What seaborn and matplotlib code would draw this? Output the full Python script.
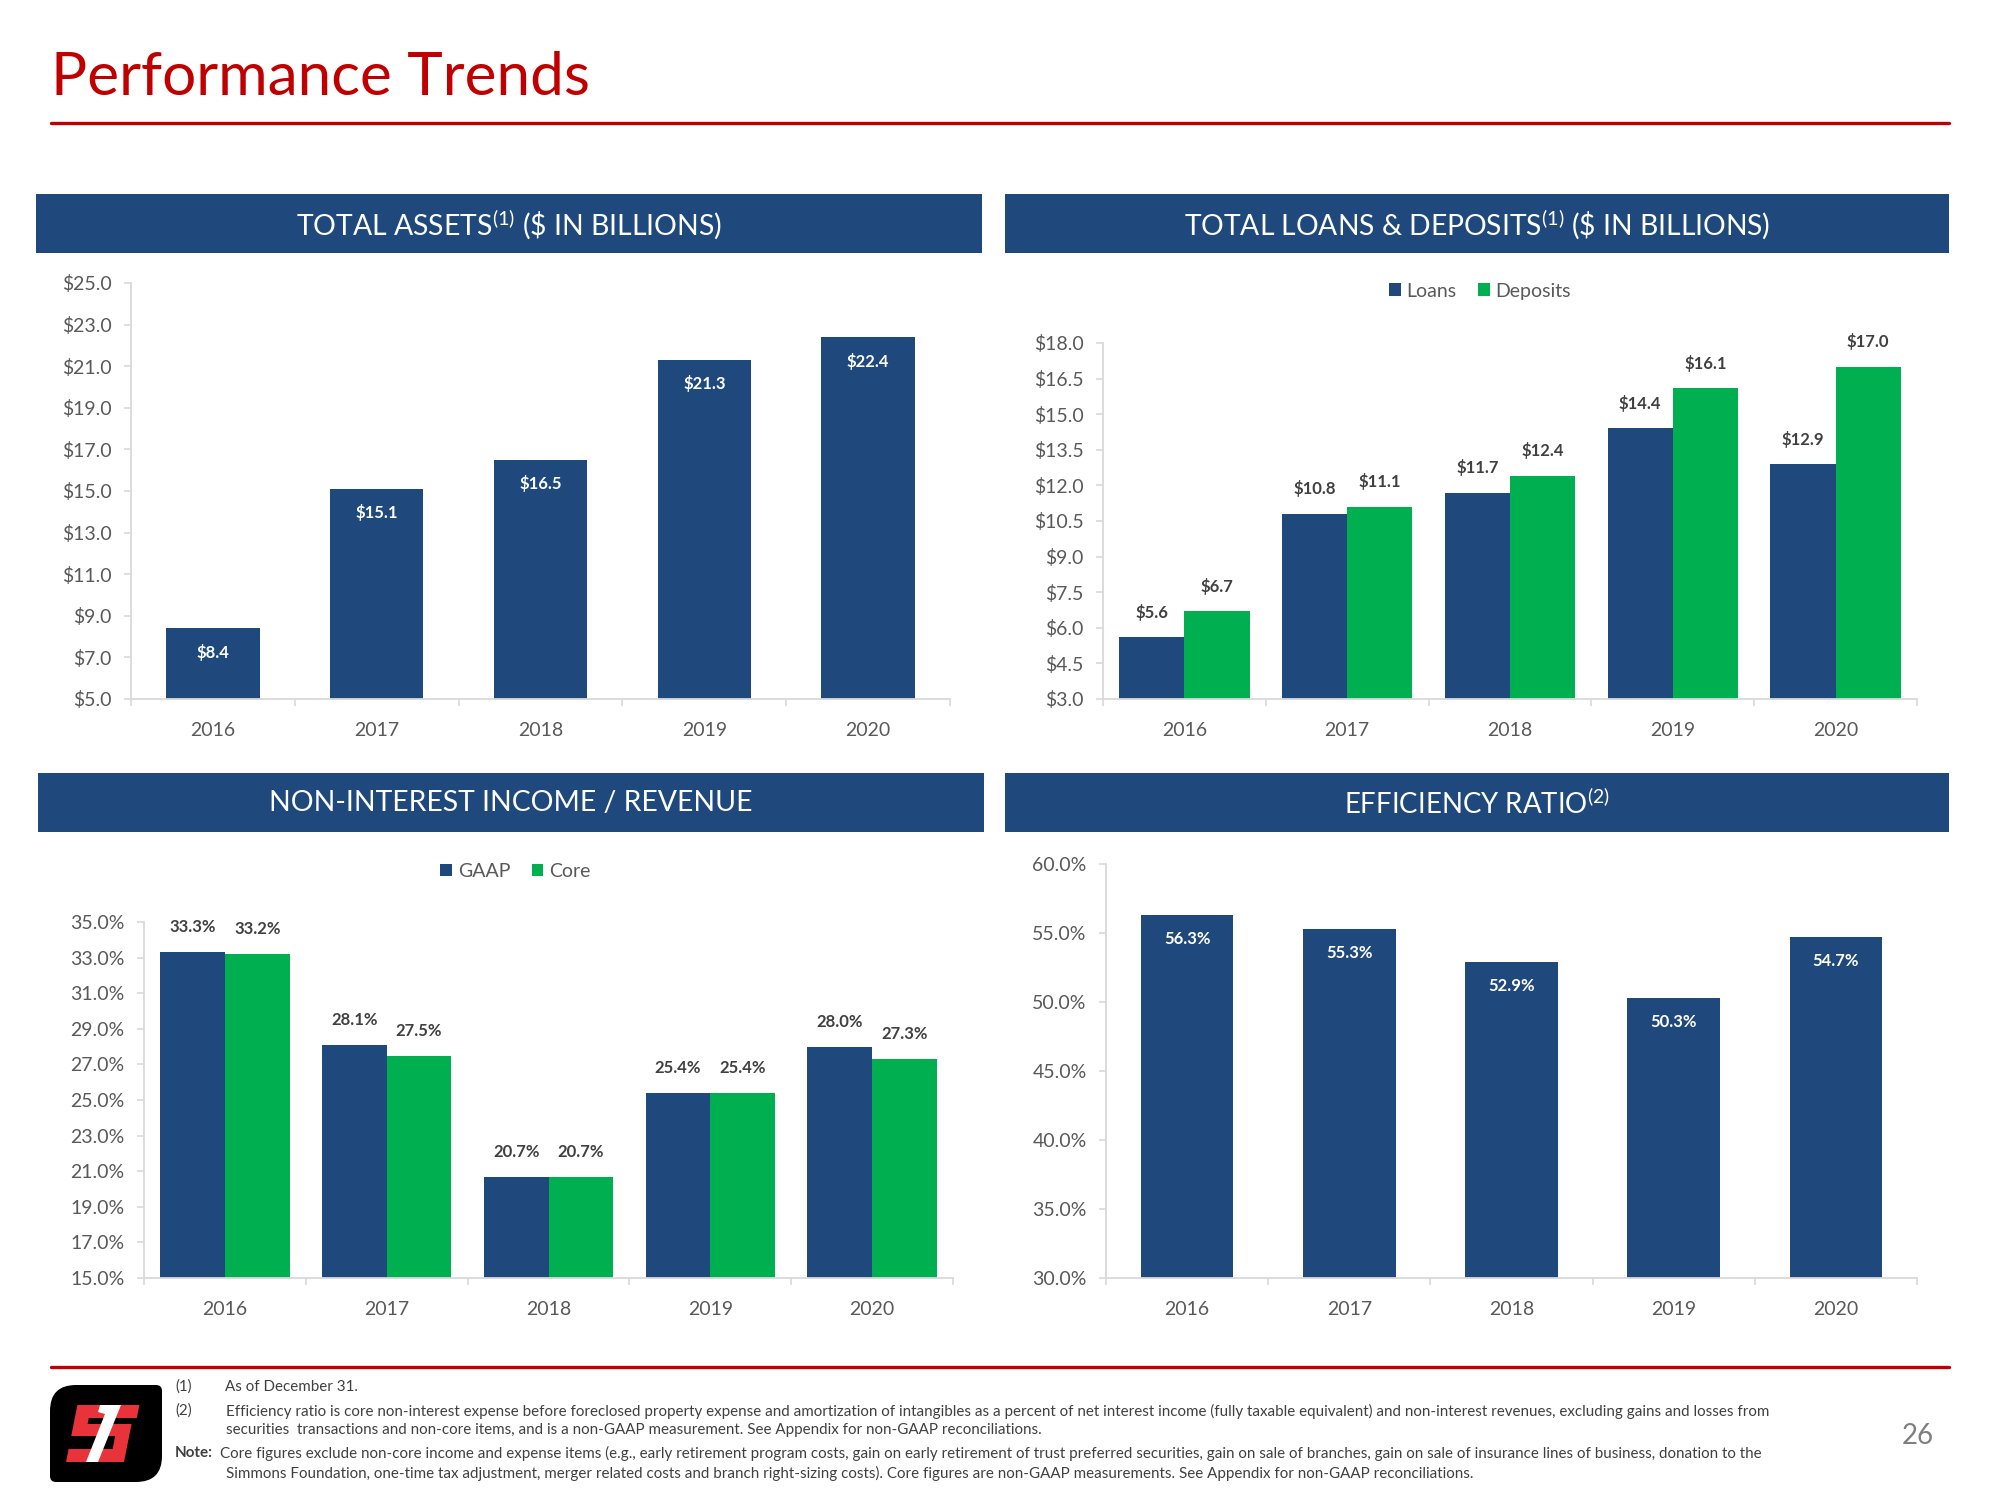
import numpy as np
import pandas as pd
import matplotlib
matplotlib.use("Agg")
import matplotlib.pyplot as plt
import seaborn as sns
from matplotlib.patches import Rectangle, Polygon, PathPatch
from matplotlib.path import Path
from matplotlib.lines import Line2D

# ---------------- data ----------------
years = ["2016", "2017", "2018", "2019", "2020"]
total_assets = [8.4, 15.1, 16.5, 21.3, 22.4]
loans = [5.6, 10.8, 11.7, 14.4, 12.9]
deposits = [6.7, 11.1, 12.4, 16.1, 17.0]
nii_gaap = [33.3, 28.1, 20.7, 25.4, 28.0]
nii_core = [33.2, 27.5, 20.7, 25.4, 27.3]
efficiency = [56.3, 55.3, 52.9, 50.3, 54.7]

assets_ticks = [5.0, 7.0, 9.0, 11.0, 13.0, 15.0, 17.0, 19.0, 21.0, 23.0, 25.0]
ld_ticks = [3.0, 4.5, 6.0, 7.5, 9.0, 10.5, 12.0, 13.5, 15.0, 16.5, 18.0]
nii_ticks = [15.0, 17.0, 19.0, 21.0, 23.0, 25.0, 27.0, 29.0, 31.0, 33.0, 35.0]
eff_ticks = [30.0, 35.0, 40.0, 45.0, 50.0, 55.0, 60.0]

title = "Performance Trends"
header_tl = r"TOTAL ASSETS$^{\mathrm{(1)}}$ (\$ IN BILLIONS)"
header_tr = r"TOTAL LOANS & DEPOSITS$^{\mathrm{(1)}}$ (\$ IN BILLIONS)"
header_bl = "NON-INTEREST INCOME / REVENUE"
header_br = r"EFFICIENCY RATIO$^{\mathrm{(2)}}$"
foot1 = "As of December 31."
foot2a = ("Efficiency ratio is core non-interest expense before foreclosed property expense and amortization of "
          "intangibles as a percent of net interest income (fully taxable equivalent) and non-interest revenues, "
          "excluding gains and losses from")
foot2b = ("securities  transactions and non-core items, and is a non-GAAP measurement. See Appendix for non-GAAP "
          "reconciliations.")
note_a = ("Core figures exclude non-core income and expense items (e.g., early retirement program costs, gain on "
          "early retirement of trust preferred securities, gain on sale of branches, gain on sale of insurance lines "
          "of business, donation to the")
note_b = ("Simmons Foundation, one-time tax adjustment, merger related costs and branch right-sizing costs). Core "
          "figures are non-GAAP measurements. See Appendix for non-GAAP reconciliations.")
page_no = "26"

# ---------------- style ----------------
NAVY = "#1F497D"
GREEN = "#00B050"
RED = "#C00000"
TICK = "#595959"
LABEL = "#404040"
AXIS = "#D9D9D9"

sns.set_theme(style="white")
plt.rcParams["font.family"] = ["Lato", "DejaVu Sans"]
plt.rcParams["mathtext.fontset"] = "custom"
plt.rcParams["mathtext.rm"] = "Lato"
plt.rcParams["mathtext.it"] = "Lato:italic"
plt.rcParams["mathtext.bf"] = "Lato:bold"

W, H = 2000, 1500
fig = plt.figure(figsize=(20, 15), dpi=100)
fig.patch.set_facecolor("white")


def fx(px):
    return px / W


def fy(py):
    return 1 - py / H


def add_axes_px(x0, y0, x1, y1):
    return fig.add_axes([fx(x0), fy(y1), fx(x1 - x0), (y1 - y0) / H])


def style_axes(ax, ticks, fmt):
    ax.set_xlim(-0.5, 4.5)
    ax.set_ylim(ticks[0], ticks[-1])
    ax.set_yticks(ticks)
    ax.set_yticklabels([fmt(t) for t in ticks])
    ax.set_xlabel("")
    ax.set_ylabel("")
    for s in ["top", "right"]:
        ax.spines[s].set_visible(False)
    for s in ["left", "bottom"]:
        ax.spines[s].set_color(AXIS)
        ax.spines[s].set_linewidth(1.3)
    ax.set_xticks(np.arange(-0.5, 5.0, 1.0), minor=True)
    ax.tick_params(axis="y", which="major", left=True, length=5, width=1.2, color=AXIS,
                   labelsize=14, labelcolor=TICK, pad=9)
    ax.tick_params(axis="x", which="major", bottom=True, length=0, labelsize=14,
                   labelcolor=TICK, pad=16.5)
    ax.tick_params(axis="x", which="minor", bottom=True, length=5, width=1.2, color=AXIS)
    ax.grid(False)


def label_bars(ax, series, fmt, offset_px, color):
    for cont, vals in zip(ax.containers, series):
        for p, v in zip(cont.patches, vals):
            ax.annotate(fmt(v), (p.get_x() + p.get_width() / 2, p.get_height()),
                        xytext=(0, offset_px), textcoords="offset pixels",
                        ha="center", va="center", fontsize=12, fontweight="bold", color=color)


# ---------------- title & rules ----------------
t_title = fig.text(fx(51), fy(95), title, color=RED, fontsize=44, ha="left", va="baseline")
fig.add_artist(Line2D([fx(51), fx(1949)], [fy(123), fy(123)], color=RED, lw=2.4,
                      transform=fig.transFigure))
fig.add_artist(Line2D([fx(51), fx(1949)], [fy(1367), fy(1367)], color=RED, lw=2.4,
                      transform=fig.transFigure))

# ---------------- header boxes ----------------
headers = []
for (x0, y0, x1, y1), txt in [((36, 194, 982, 253), header_tl),
                              ((1005, 194, 1949, 253), header_tr),
                              ((38, 773, 984, 832), header_bl),
                              ((1005, 773, 1949, 832), header_br)]:
    fig.add_artist(Rectangle((fx(x0), fy(y1)), fx(x1 - x0), (y1 - y0) / H,
                             transform=fig.transFigure, facecolor=NAVY, edgecolor="none"))
    headers.append(fig.text(fx((x0 + x1) / 2), fy((y0 + y1) / 2 + 1), txt, color="white",
                            fontsize=20, ha="center", va="center"))

# ---------------- chart 1: total assets ----------------
ax1 = add_axes_px(131, 283, 950, 699)
sns.barplot(x=years, y=total_assets, color=NAVY, width=0.57, saturation=1,
            linewidth=0, errorbar=None, ax=ax1)
style_axes(ax1, assets_ticks, lambda t: f"${t:.1f}")
label_bars(ax1, [total_assets], lambda v: f"${v:.1f}", -24, "white")

# ---------------- chart 2: loans & deposits ----------------
ax2 = add_axes_px(1103, 343, 1917, 699)
df_ld = pd.DataFrame({"year": years * 2,
                      "series": ["Loans"] * len(years) + ["Deposits"] * len(years),
                      "value": loans + deposits})
sns.barplot(data=df_ld, x="year", y="value", hue="series", hue_order=["Loans", "Deposits"],
            palette=[NAVY, GREEN], width=0.8, saturation=1, linewidth=0, errorbar=None, ax=ax2)
style_axes(ax2, ld_ticks, lambda t: f"${t:.1f}")
label_bars(ax2, [loans, deposits], lambda v: f"${v:.1f}", 25, LABEL)
h, l = ax2.get_legend_handles_labels()
ax2.legend(h, l, loc="center", bbox_to_anchor=(0.463, 1.146), ncol=2, frameon=False,
           fontsize=14, labelcolor=TICK, handlelength=0.6, handleheight=0.6,
           handletextpad=0.3, columnspacing=1.1)

# ---------------- chart 3: non-interest income / revenue ----------------
ax3 = add_axes_px(144, 922, 953, 1278)
df_nii = pd.DataFrame({"year": years * 2,
                       "series": ["GAAP"] * len(years) + ["Core"] * len(years),
                       "value": nii_gaap + nii_core})
sns.barplot(data=df_nii, x="year", y="value", hue="series", hue_order=["GAAP", "Core"],
            palette=[NAVY, GREEN], width=0.8, saturation=1, linewidth=0, errorbar=None, ax=ax3)
style_axes(ax3, nii_ticks, lambda t: f"{t:.1f}%")
label_bars(ax3, [nii_gaap, nii_core], lambda v: f"{v:.1f}%", 25, LABEL)
h, l = ax3.get_legend_handles_labels()
ax3.legend(h, l, loc="center", bbox_to_anchor=(0.459, 1.143), ncol=2, frameon=False,
           fontsize=14, labelcolor=TICK, handlelength=0.6, handleheight=0.6,
           handletextpad=0.3, columnspacing=1.1)

# ---------------- chart 4: efficiency ratio ----------------
ax4 = add_axes_px(1106, 864, 1917, 1278)
sns.barplot(x=years, y=efficiency, color=NAVY, width=0.57, saturation=1,
            linewidth=0, errorbar=None, ax=ax4)
style_axes(ax4, eff_ticks, lambda t: f"{t:.1f}%")
label_bars(ax4, [efficiency], lambda v: f"{v:.1f}%", -24, "white")

# ---------------- footnotes ----------------
FOOT = "#404040"
fs = 10
fig.text(fx(175), fy(1387), "(1)", fontsize=fs, color=FOOT, va="center", ha="left")
f1 = fig.text(fx(225), fy(1387), foot1, fontsize=fs, color=FOOT, va="center", ha="left")
fig.text(fx(175), fy(1411), "(2)", fontsize=fs, color=FOOT, va="center", ha="left")
f2a = fig.text(fx(226), fy(1411), foot2a, fontsize=fs, color=FOOT, va="center", ha="left")
f2b = fig.text(fx(226), fy(1430), foot2b, fontsize=fs, color=FOOT, va="center", ha="left")
fig.text(fx(175), fy(1453), "Note:", fontsize=fs, color=FOOT, va="center", ha="left",
         fontweight="bold")
na = fig.text(fx(220), fy(1453), note_a, fontsize=fs, color=FOOT, va="center", ha="left")
nb = fig.text(fx(226), fy(1473), note_b, fontsize=fs, color=FOOT, va="center", ha="left")
fig.text(fx(1918), fy(1436), page_no, fontsize=20, color="#7F7F7F", ha="center", va="center")

# ---------------- logo ----------------
lax = fig.add_axes([fx(50), fy(1482), fx(112), 97 / H])
lax.set_xlim(0, 112)
lax.set_ylim(0, 97)
lax.axis("off")
Wl, Hl, rb, rs = 112, 97, 26, 6
verts = [(rb, Hl), (Wl - rs, Hl), (Wl, Hl), (Wl, Hl - rs), (Wl, rb), (Wl, 0), (Wl - rb, 0),
         (rs, 0), (0, 0), (0, rs), (0, Hl - rb), (0, Hl), (rb, Hl), (rb, Hl)]
codes = [Path.MOVETO, Path.LINETO, Path.CURVE3, Path.CURVE3, Path.LINETO, Path.CURVE3, Path.CURVE3,
         Path.LINETO, Path.CURVE3, Path.CURVE3, Path.LINETO, Path.CURVE3, Path.CURVE3, Path.CLOSEPOLY]
lax.add_patch(PathPatch(Path(verts, codes), facecolor="black", edgecolor="none"))
s_shape = [(0, 57), (62, 57), (62, 44), (14, 44), (14, 38), (58, 38), (58, 0), (0, 0),
           (0, 13), (44, 13), (44, 26), (0, 26)]
s_shape = [(16 + x + 0.2 * y, 20 + y) for x, y in s_shape]
lax.add_patch(Polygon(s_shape, closed=True, facecolor="#E8333A", edgecolor="none"))
one_shape = [(50, 77), (71, 77), (48, 20), (36, 20), (55, 68), (48, 70)]
lax.add_patch(Polygon(one_shape, closed=True, facecolor="white", edgecolor="none"))

# ---------------- fit text widths ----------------
fig.canvas.draw()
r = fig.canvas.get_renderer()


def fit(t, target):
    w = t.get_window_extent(renderer=r).width
    t.set_fontsize(t.get_fontsize() * target / w)


fit(t_title, 539)
for t, tw in zip(headers, [425, 585, 481, 266]):
    fit(t, tw)
fit(f2a, 1547)
size_f = f2a.get_fontsize()
for t in fig.texts:
    if t.get_fontsize() == fs:
        t.set_fontsize(size_f)

fig.savefig("out.png", dpi=100, facecolor="white")
